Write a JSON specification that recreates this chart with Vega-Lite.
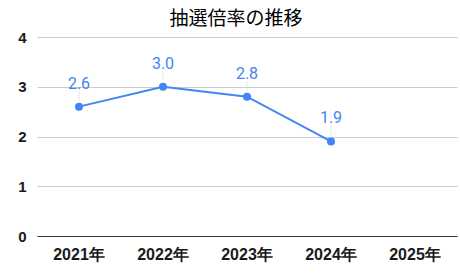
{
  "$schema": "https://vega.github.io/schema/vega-lite/v6.json",
  "width": 420,
  "height": 199,
  "autosize": {"type": "none"},
  "padding": {"left": 37, "top": 37, "right": 3, "bottom": 39},
  "background": "white",
  "title": {
    "text": "抽選倍率の推移",
    "font": "Noto Sans CJK JP",
    "fontSize": 19,
    "fontWeight": "normal",
    "color": "#000000",
    "anchor": "middle",
    "dx": -11,
    "offset": 1
  },
  "data": {
    "values": [
      {"year": "2021年", "ratio": 2.6},
      {"year": "2022年", "ratio": 3.0},
      {"year": "2023年", "ratio": 2.8},
      {"year": "2024年", "ratio": 1.9},
      {"year": "2025年", "ratio": null}
    ]
  },
  "config": {
    "view": {"stroke": null},
    "font": "Liberation Sans"
  },
  "encoding": {
    "x": {
      "field": "year",
      "type": "ordinal",
      "sort": null,
      "scale": {"domain": ["2021年", "2022年", "2023年", "2024年", "2025年"], "paddingInner": 0, "paddingOuter": 0},
      "axis": {
        "title": null,
        "labelAngle": 0,
        "labelFont": "Liberation Sans",
        "labelFontSize": 16,
        "labelFontWeight": "bold",
        "labelColor": "#1a1a1a",
        "labelPadding": 10,
        "ticks": false,
        "domain": false,
        "grid": false
      }
    },
    "y": {
      "field": "ratio",
      "type": "quantitative",
      "scale": {"domain": [0, 4], "nice": false},
      "axis": {
        "title": null,
        "values": [0, 1, 2, 3, 4],
        "labelFont": "Liberation Sans",
        "labelFontSize": 15,
        "labelFontWeight": "bold",
        "labelColor": "#1a1a1a",
        "labelPadding": 11,
        "ticks": false,
        "domain": false,
        "grid": true,
        "gridColor": {"condition": {"test": "datum.value === 0", "value": "#333333"}, "value": "#cccccc"},
        "gridWidth": 1
      }
    }
  },
  "layer": [
    {
      "mark": {"type": "tick", "orient": "vertical", "color": "#dddddd", "size": 10, "thickness": 1, "yOffset": -11},
      "transform": [{"filter": "datum.ratio != null"}]
    },
    {
      "mark": {"type": "line", "color": "#4285F4", "strokeWidth": 2},
      "transform": [{"filter": "datum.ratio != null"}]
    },
    {
      "mark": {"type": "point", "filled": true, "color": "#4285F4", "size": 64, "opacity": 1},
      "transform": [{"filter": "datum.ratio != null"}]
    },
    {
      "mark": {"type": "text", "color": "#4285F4", "font": "Roboto", "fontSize": 16, "baseline": "alphabetic", "dy": -18},
      "transform": [{"filter": "datum.ratio != null"}],
      "encoding": {
        "text": {"field": "ratio", "type": "quantitative", "format": ".1f"}
      }
    }
  ]
}
